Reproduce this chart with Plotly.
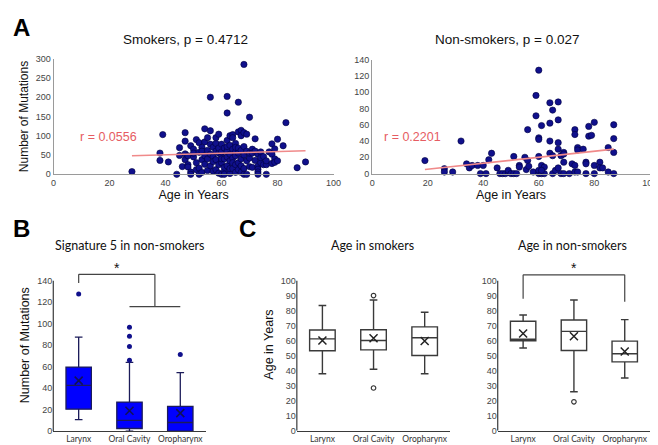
import plotly.graph_objects as go

# ---------------- data ----------------
smk_age = [28,38,38,39,41,44,45,45,46,47,47,47,47,48,48,48,49,49,49,50,50,50,51,51,51,52,52,52,52,
           53,53,53,53,54,54,54,54,55,55,55,55,56,56,56,56,56,57,57,57,57,58,58,58,58,58,
           59,59,59,59,59,60,60,60,60,60,60,61,61,61,61,61,62,62,62,62,62,62,62,
           63,63,63,63,63,63,64,64,64,64,64,64,65,65,65,65,65,65,66,66,66,66,66,66,
           67,67,67,67,67,67,68,68,68,68,68,68,69,69,69,69,70,70,70,70,71,71,71,
           72,72,72,73,73,73,73,73,74,74,74,75,75,76,76,76,77,78,78,78,79,79,79,
           80,80,82,83,87,90]
smk_mut = [7,55,36,103,32,0,69,49,20,108,86,53,38,25,19,48,6,0,74,65,45,55,90,30,12,57,16,0,82,
           70,38,5,60,118,84,48,26,95,62,40,10,200,113,78,52,22,70,45,33,8,80,60,38,12,95,
           55,25,3,68,104,78,48,30,0,58,40,68,40,8,0,18,202,159,88,60,45,22,72,
           100,75,52,35,2,15,103,95,65,42,15,30,80,58,48,25,5,70,187,110,68,55,30,12,
           114,100,62,40,22,5,285,108,72,50,15,0,104,60,0,35,148,42,20,55,65,55,18,
           92,36,60,52,21,13,6,0,58,30,43,46,25,25,0,35,58,79,52,28,66,40,31,
           91,35,74,134,17,32]

non_age = [19,26,26,29,32,34,35,36,38,39,40,41,42,43,45,46,47,48,49,49,50,51,51,52,53,53,55,55.5,
           56,56,56.4,58,59,59,60,60,60,60,60,60,61,62,61,61,62,61,64,64,64,64,65,65,65,66,
           67,67,67,67,67,68,68,69,69,69,69,71,72,73,73,73,73,74,74,74,76,77,77,77,78,78,79,
           80,80,80,82,82,83,85,85,87,87,87,87]
non_mut = [16,6,2,2,40,12,7,10,10,0,10,0,17,25,7,0,0,0,2,4,0,0,21,0,10,8,20,5,
           54,16,9,2,96,71,127,44,42,21,0,4,0,0,59,10,8,4,87,62,40,25,78,22,0,4,
           88,66,38,30,7,22,0,26,24,14,0,0,12,54,48,10,2,32,29,2,30,14,12,0,58,46,47,
           63,10,0,14,7,7,32,2,60,43,26,0]

# trend lines: (intercept, slope)
smk_fit = (42.1, 0.21)
non_fit = (-2.0, 0.368)
smk_r = "r = 0.0556"
non_r = "r = 0.2201"

cats = ["Larynx", "Oral Cavity", "Oropharynx"]

# Signature 5 in non-smokers
s5_q1 = [20.4, 2.4, 0.0]
s5_med = [42.5, 10.0, 8.0]
s5_q3 = [59.6, 27.0, 23.0]
s5_lo = [10.6, 0.0, 0.0]
s5_hi = [87.5, 64.0, 54.4]
s5_mean = [47.0, 19.0, 16.7]
s5_out_x = ["Larynx", "Oral Cavity", "Oral Cavity", "Oral Cavity", "Oral Cavity", "Oropharynx"]
s5_out_y = [127.7, 66.0, 78.7, 88.4, 96.7, 71.4]

# Age in smokers
as_q1 = [53.3, 53.9, 50.2]
as_med = [61.3, 60.2, 62.0]
as_q3 = [67.2, 67.4, 69.3]
as_lo = [38.0, 41.0, 38.0]
as_hi = [83.5, 87.2, 79.0]
as_mean = [60.2, 61.7, 59.8]
as_out_x = ["Oral Cavity", "Oral Cavity"]
as_out_y = [90.2, 28.5]

# Age in non-smokers
an_q1 = [60.0, 53.5, 45.9]
an_med = [61.0, 66.3, 51.3]
an_q3 = [73.0, 73.9, 59.8]
an_lo = [55.2, 26.0, 35.2]
an_hi = [77.2, 87.2, 74.1]
an_mean = [64.8, 63.0, 52.8]
an_out_x = ["Oral Cavity"]
an_out_y = [19.3]

# ---------------- figure ----------------
W, H = 658, 445
def px(x): return x / W
def py(y): return 1 - y / H

ARIAL = "Liberation Sans, Arial, sans-serif"
CALI = "Lato, Open Sans, sans-serif"
DOT = "#10108c"
RED = "#f08a8a"
RTXT = "#e65c62"

fig = go.Figure()

# scatter A
fig.add_trace(go.Scatter(x=smk_age, y=smk_mut, mode="markers", xaxis="x", yaxis="y",
                         marker=dict(size=6.3, color=DOT, line=dict(color="#000040", width=0.6)),
                         cliponaxis=False, showlegend=False))
fig.add_trace(go.Scatter(x=non_age, y=non_mut, mode="markers", xaxis="x2", yaxis="y2",
                         marker=dict(size=6.3, color=DOT, line=dict(color="#000040", width=0.6)),
                         cliponaxis=False, showlegend=False))
for ages, fit, xa, ya in [(smk_age, smk_fit, "x", "y"), (non_age, non_fit, "x2", "y2")]:
    xs = [min(ages), max(ages)]
    ys = [fit[0] + fit[1] * v for v in xs]
    fig.add_trace(go.Scatter(x=xs, y=ys, mode="lines", xaxis=xa, yaxis=ya,
                             line=dict(color=RED, width=1.6), showlegend=False))

# box B
fig.add_trace(go.Box(x=cats, q1=s5_q1, median=s5_med, q3=s5_q3, lowerfence=s5_lo, upperfence=s5_hi,
                     xaxis="x3", yaxis="y3", boxpoints=False, width=0.5, whiskerwidth=0.3,
                     fillcolor="#0000ff", line=dict(color="#1c1c5a", width=1.3), showlegend=False))
fig.add_trace(go.Scatter(x=cats, y=s5_mean, mode="markers", xaxis="x3", yaxis="y3",
                         marker=dict(symbol="x-thin", size=8, line=dict(color="#10105a", width=1.6)),
                         showlegend=False))
fig.add_trace(go.Scatter(x=s5_out_x, y=s5_out_y, mode="markers", xaxis="x3", yaxis="y3",
                         marker=dict(size=5, color=DOT), cliponaxis=False, showlegend=False))

# boxes C
for q1, med, q3, lo, hi, mean, ox, oy, xa, ya in [
        (as_q1, as_med, as_q3, as_lo, as_hi, as_mean, as_out_x, as_out_y, "x4", "y4"),
        (an_q1, an_med, an_q3, an_lo, an_hi, an_mean, an_out_x, an_out_y, "x5", "y5")]:
    fig.add_trace(go.Box(x=cats, q1=q1, median=med, q3=q3, lowerfence=lo, upperfence=hi,
                         xaxis=xa, yaxis=ya, boxpoints=False, width=0.5, whiskerwidth=0.3,
                         fillcolor="white", line=dict(color="#3a3a3a", width=1.4), showlegend=False))
    fig.add_trace(go.Scatter(x=cats, y=mean, mode="markers", xaxis=xa, yaxis=ya,
                             marker=dict(symbol="x-thin", size=8, line=dict(color="#222222", width=1.5)),
                             showlegend=False))
    fig.add_trace(go.Scatter(x=ox, y=oy, mode="markers", xaxis=xa, yaxis=ya,
                             marker=dict(symbol="circle-open", size=4.5, color="#333333",
                                         line=dict(color="#333333", width=1.2)),
                             cliponaxis=False, showlegend=False))

tickf = dict(family=ARIAL, size=9, color="#444444")
catf = dict(family=CALI, size=8.5, color="#333333")
titf = dict(family=ARIAL, size=12.5, color="#111111")

def sc_x(dom, title):
    return dict(domain=dom, range=[0, 100], tickvals=[0, 20, 40, 60, 80, 100], showgrid=False,
                zeroline=False, showline=True, linecolor="#9a9a9a", linewidth=1.2, ticks="",
                tickfont=tickf, title=dict(text=title, font=titf, standoff=2), fixedrange=True)

def sc_y(dom, rng, dt, anchor, title=None):
    d = dict(domain=dom, range=rng, dtick=dt, showgrid=False, zeroline=False, showline=True,
             linecolor="#9a9a9a", linewidth=1.2, ticks="", tickfont=tickf, anchor=anchor,
             fixedrange=True)
    if title:
        d["title"] = dict(text=title, font=dict(family=ARIAL, size=12, color="#111111"), standoff=4)
    return d

def bx_x(dom, anchor):
    return dict(domain=dom, type="category", categoryorder="array", categoryarray=cats,
                range=[-0.5, 2.5], showgrid=False, zeroline=False, showline=True,
                linecolor="#3a3a3a", linewidth=1.2, ticks="", tickfont=catf, anchor=anchor,
                fixedrange=True)

def bx_y(dom, rng, vals, anchor, title=None):
    d = dict(domain=dom, range=rng, tickvals=vals, showgrid=False, zeroline=False, showline=False,
             ticks="", tickfont=tickf, anchor=anchor, fixedrange=True)
    if title:
        d["title"] = dict(text=title, font=dict(family=ARIAL, size=12.5, color="#111111"), standoff=4)
    return d

fig.update_layout(
    width=W, height=H, margin=dict(l=0, r=0, t=0, b=0),
    paper_bgcolor="white", plot_bgcolor="white", showlegend=False,
    xaxis=dict(sc_x([px(43.3), px(328)], "Age in Years"), anchor="y"),
    yaxis=sc_y([py(165), py(46.7)], [0, 300], 50, "x", "Number of Mutations"),
    xaxis2=dict(sc_x([px(367.3), px(649.7)], "Age in Years"), anchor="y2"),
    yaxis2=sc_y([py(164.3), py(47.7)], [0, 140], 20, "x2"),
    xaxis3=bx_x([px(43), px(198)], "y3"),
    yaxis3=bx_y([py(427.7), py(252)], [0, 160], list(range(0, 141, 20)), "x3", "Number of Mutations"),
    xaxis4=bx_x([px(290.7), px(446.7)], "y4"),
    yaxis4=bx_y([py(427.3), py(251)], [0, 115], list(range(0, 101, 10)), "x4", "Age in Years"),
    xaxis5=bx_x([px(495), px(650)], "y5"),
    yaxis5=bx_y([py(427.3), py(251)], [0, 115], list(range(0, 101, 10)), "x5"),
)

# y axis lines for box panels (only up to top tick)
shapes = []
for xa, ya, top in [("x3", "y3", 140), ("x4", "y4", 100), ("x5", "y5", 100)]:
    shapes.append(dict(type="line", xref=xa + " domain", yref=ya, x0=0, x1=0, y0=0, y1=top,
                       line=dict(color="#3a3a3a", width=1.2)))
# significance brackets
BR = dict(color="#444444", width=1.2)
for (x0, y0, x1, y1) in [(0, 138, 0, 146), (0, 146, 1.5, 146), (1.5, 146, 1.5, 116), (1, 116, 2, 116)]:
    shapes.append(dict(type="line", xref="x3", yref="y3", x0=x0, y0=y0, x1=x1, y1=y1, line=BR))
for (x0, y0, x1, y1) in [(0, 88, 0, 104), (0, 104, 2, 104), (2, 104, 2, 86)]:
    shapes.append(dict(type="line", xref="x5", yref="y5", x0=x0, y0=y0, x1=x1, y1=y1, line=BR))
fig.update_layout(shapes=shapes)

ann = []
ann.append(dict(text=smk_r, x=19.5, y=97, xref="x", yref="y", showarrow=False, xanchor="center",
                font=dict(family=ARIAL, size=12.5, color=RTXT)))
ann.append(dict(text=non_r, x=14.6, y=45, xref="x2", yref="y2", showarrow=False, xanchor="center",
                font=dict(family=ARIAL, size=12.5, color=RTXT)))
ann.append(dict(text="*", x=0.75, y=152, xref="x3", yref="y3", showarrow=False, xanchor="center",
                font=dict(family=ARIAL, size=14, color="#111111")))
ann.append(dict(text="*", x=1, y=108.5, xref="x5", yref="y5", showarrow=False, xanchor="center",
                font=dict(family=ARIAL, size=14, color="#111111")))
for t, x, y in [("Smokers, p = 0.4712", 177.5, 27), ("Non-smokers, p = 0.027", 504, 27)]:
    ann.append(dict(text=t, x=px(x), y=py(y), xref="paper", yref="paper", showarrow=False,
                    xanchor="center", yanchor="middle",
                    font=dict(family=ARIAL, size=13.5, color="#111111")))
for t, x, y in [("Signature 5 in non-smokers", 120.5, 238), ("Age in smokers", 368, 238),
                ("Age in non-smokers", 571.5, 238)]:
    ann.append(dict(text=t, x=px(x), y=py(y), xref="paper", yref="paper", showarrow=False,
                    xanchor="center", yanchor="middle",
                    font=dict(family=CALI, size=12.5, color="#111111")))
for t, x, y in [("A", 0, 15), ("B", 0, 220), ("C", 230, 220)]:
    ann.append(dict(text="<b>%s</b>" % t, x=px(x), y=py(y), xref="paper", yref="paper",
                    xanchor="left", yanchor="middle", showarrow=False,
                    font=dict(family=ARIAL, size=24, color="#000000")))
fig.update_layout(annotations=ann)

fig.write_html("out.html")
